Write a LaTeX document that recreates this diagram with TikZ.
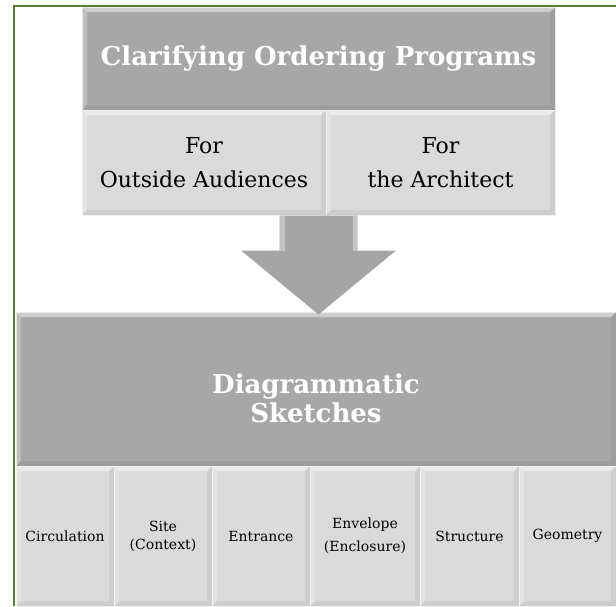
\documentclass[tikz,border=0pt]{standalone}
\usepackage{fontspec}
\setmainfont{DejaVu Serif}
\usetikzlibrary{calc}

\definecolor{framegreen}{RGB}{84,130,53}
\definecolor{darkbox}{RGB}{167,167,167}
\definecolor{lightbox}{RGB}{218,218,218}
\definecolor{arrowgray}{RGB}{165,165,165}

\tikzset{
    bevel/.style={path picture={
        \fill[white,opacity=.45] (path picture bounding box.north west) -- (path picture bounding box.north east)
            -- ([xshift=-#1,yshift=-#1]path picture bounding box.north east) -- ([xshift=#1,yshift=-#1]path picture bounding box.north west) -- cycle;
        \fill[white,opacity=.25] (path picture bounding box.north west) -- ([xshift=#1,yshift=-#1]path picture bounding box.north west)
            -- ([xshift=#1,yshift=#1]path picture bounding box.south west) -- (path picture bounding box.south west) -- cycle;
        \fill[black,opacity=.06] (path picture bounding box.south west) -- (path picture bounding box.south east)
            -- ([xshift=-#1,yshift=#1]path picture bounding box.south east) -- ([xshift=#1,yshift=#1]path picture bounding box.south west) -- cycle;
        \fill[black,opacity=.05] (path picture bounding box.north east) -- ([xshift=-#1,yshift=-#1]path picture bounding box.north east)
            -- ([xshift=-#1,yshift=#1]path picture bounding box.south east) -- (path picture bounding box.south east) -- cycle;
    }},
    headbox/.style={rectangle, fill=darkbox, draw=white!75!darkbox, line width=1pt, bevel=5pt,
        text=white, font=\bfseries\fontsize{26}{29}\selectfont, align=center, inner sep=0pt},
    subbox/.style={rectangle, fill=lightbox, draw=white!60!lightbox, line width=1pt, bevel=5pt,
        text=black, font=\fontsize{22}{34}\selectfont, align=center, inner sep=0pt},
    itembox/.style={subbox, font=\fontsize{14}{23}\selectfont},
    headtext/.style={text=white, font=\bfseries\fontsize{26}{29}\selectfont, align=center},
    frame/.style={draw=framegreen, line width=2pt},
}

\begin{document}
\begin{tikzpicture}[x=1pt, y=-1pt]
    \useasboundingbox (0,0) rectangle (616,606);
    \draw[frame] (616,5.5) -- (14,5.5) -- (14,606);

    \node[headbox, minimum width=473, minimum height=103] (title) at (318.5,58.5) {Clarifying Ordering Programs};
    \node[subbox, minimum width=244, minimum height=105] (outside) at (204,162.5) {For\\Outside Audiences};
    \node[subbox, minimum width=229, minimum height=105] (architect) at (440.5,162.5) {For\\the Architect};

    \node[headbox, minimum width=600, minimum height=154,
        label={[headtext, yshift=-9pt]center:Diagrammatic\\Sketches}] (diagram) at (316,389) {};

    \node[itembox, minimum width=98, minimum height=140] (circulation) at (65,536) {Circulation};
    \node[itembox, minimum width=98, minimum height=140] (site) at (163,536) {Site\\[-5pt](Context)};
    \node[itembox, minimum width=98, minimum height=140] (entrance) at (261,536) {Entrance};
    \node[itembox, minimum width=110, minimum height=140] (envelope) at (365,536) {Envelope\\(Enclosure)};
    \node[itembox, minimum width=99, minimum height=140] (structure) at (469.5,536) {Structure};
    \node[itembox, minimum width=97, minimum height=140] (geometry) at (567.5,536) {Geometry};

    \coordinate (arrtop) at (outside.south east -| title.south);
    \coordinate (arrtip) at (arrtop |- diagram.north);
    \fill[arrowgray] ($(arrtop)+(-39,0)$) -- ($(arrtop)+(39,0)$) -- ($(arrtop)+(39,35)$) -- ($(arrtop)+(77.5,35)$)
        -- ($(arrtip)+(0,3)$) -- ($(arrtop)+(-77.5,35)$) -- ($(arrtop)+(-39,35)$) -- cycle;
    \fill[white,opacity=.35] ($(arrtop)+(-39,0)$) -- ($(arrtop)+(-39,35)$) -- ($(arrtop)+(-34,35)$) -- ($(arrtop)+(-34,0)$) -- cycle;
    \fill[white,opacity=.35] ($(arrtop)+(39,0)$) -- ($(arrtop)+(39,35)$) -- ($(arrtop)+(34,35)$) -- ($(arrtop)+(34,0)$) -- cycle;
\end{tikzpicture}
\end{document}
